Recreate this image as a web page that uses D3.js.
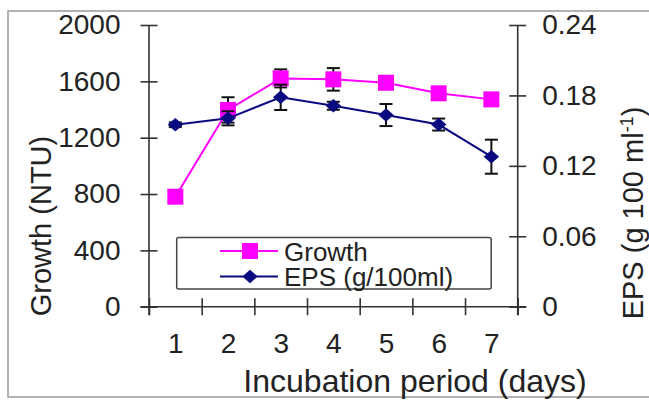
<!DOCTYPE html>
<html>
<head>
<meta charset="utf-8">
<script src="https://cdn.jsdelivr.net/npm/d3@7"></script>
<style>
  html, body { margin: 0; padding: 0; background: #fff; }
  text { font-family: "Liberation Sans", Arial, sans-serif; fill: #222; }
</style>
</head>
<body>
<svg id="chart" width="649" height="401"></svg>
<script>
// Incubation days and measured series
const days = [1, 2, 3, 4, 5, 6, 7];
const growth = [781, 1397, 1621, 1614, 1590, 1515, 1472];
const growthErr = [0, 90, 64, 80, 15, 45, 40];
const eps = [0.155, 0.1605, 0.1784, 0.1712, 0.1633, 0.1552, 0.1278];
const epsErr = [0.002, 0.006, 0.0108, 0.0034, 0.0094, 0.0051, 0.0145];

// Axis ticks
const growthTicks = [0, 400, 800, 1200, 1600, 2000];
const epsTicks = [0, 0.06, 0.12, 0.18, 0.24];
const epsTickLabels = ["0", "0.06", "0.12", "0.18", "0.24"];
const dayBounds = [0.5, 1.5, 2.5, 3.5, 4.5, 5.5, 6.5, 7.5];

const svg = d3.select("#chart");
const plot = { left: 149, right: 517.7, top: 25, bottom: 306.7 };

const x = d3.scaleLinear().domain([0.5, 7.5]).range([plot.left, plot.right]);
const yL = d3.scaleLinear().domain([0, 2000]).range([plot.bottom, plot.top]);
const yR = d3.scaleLinear().domain([0, 0.24]).range([plot.bottom, plot.top]);

const axisColor = "#333";
const tickHalf = 8.5;
const overhang = 8.5;

// Outer frame (its right side runs past the canvas edge)
svg.append("rect")
  .attr("x", 8).attr("y", 11).attr("width", 650).attr("height", 386)
  .attr("fill", "none").attr("stroke", "#999").attr("stroke-width", 1.5);

// Axis lines (they run slightly past each other at the corners)
const axes = svg.append("g").attr("stroke", axisColor).attr("stroke-width", 1.6);
axes.append("line")
  .attr("x1", plot.left).attr("x2", plot.left)
  .attr("y1", yL(2000)).attr("y2", yL(0) + overhang);
axes.append("line")
  .attr("x1", plot.right).attr("x2", plot.right)
  .attr("y1", yR(0.24)).attr("y2", yR(0) + overhang);
axes.append("line")
  .attr("x1", plot.left - overhang).attr("x2", plot.right + overhang)
  .attr("y1", yL(0)).attr("y2", yL(0));

// Left axis
const leftAxis = svg.append("g")
  .attr("transform", `translate(${plot.left},0)`)
  .call(d3.axisLeft(yL).tickValues(growthTicks).tickFormat(d3.format("d")).tickSize(tickHalf).tickPadding(20));
leftAxis.select(".domain").remove();
leftAxis.selectAll(".tick line").attr("x1", -tickHalf).attr("x2", tickHalf)
  .attr("stroke", axisColor).attr("stroke-width", 1.6);
leftAxis.selectAll(".tick text").attr("font-size", 28).attr("fill", "#222")
  .attr("font-family", "Liberation Sans, Arial, sans-serif");

// Right axis
const rightAxis = svg.append("g")
  .attr("transform", `translate(${plot.right},0)`)
  .call(d3.axisRight(yR).tickValues(epsTicks).tickFormat((d, i) => epsTickLabels[i]).tickSize(tickHalf).tickPadding(16));
rightAxis.select(".domain").remove();
rightAxis.selectAll(".tick line").attr("x1", -tickHalf).attr("x2", tickHalf)
  .attr("stroke", axisColor).attr("stroke-width", 1.6);
rightAxis.selectAll(".tick text").attr("font-size", 28).attr("fill", "#222")
  .attr("font-family", "Liberation Sans, Arial, sans-serif");

// Bottom axis: tick marks between days, labels under each day
const bottomTicks = svg.append("g")
  .attr("transform", `translate(0,${plot.bottom})`)
  .call(d3.axisBottom(x).tickValues(dayBounds).tickFormat("").tickSize(tickHalf));
bottomTicks.select(".domain").remove();
bottomTicks.selectAll(".tick line").attr("y1", -tickHalf).attr("y2", tickHalf)
  .attr("stroke", axisColor).attr("stroke-width", 1.6);

const bottomLabels = svg.append("g")
  .attr("transform", `translate(0,${plot.bottom})`)
  .call(d3.axisBottom(x).tickValues(days).tickFormat(d3.format("d")).tickSize(0).tickPadding(26));
bottomLabels.select(".domain").remove();
bottomLabels.selectAll(".tick text").attr("font-size", 28).attr("fill", "#222")
  .attr("font-family", "Liberation Sans, Arial, sans-serif");

// Axis titles
svg.append("text")
  .attr("x", 415).attr("y", 392)
  .attr("text-anchor", "middle").attr("font-size", 32)
  .text("Incubation period (days)");

svg.append("text")
  .attr("transform", "translate(51,226) rotate(-90)")
  .attr("text-anchor", "middle").attr("font-size", 29)
  .text("Growth (NTU)");

const rTitle = svg.append("text")
  .attr("transform", "translate(643,213) rotate(-90)")
  .attr("text-anchor", "middle").attr("font-size", 29);
rTitle.append("tspan").text("EPS (g 100 ml");
rTitle.append("tspan").attr("font-size", 18).attr("dy", -10).text("-1");
rTitle.append("tspan").attr("dy", 10).text(")");

// Series drawing
const pink = "#ff00ff";
const navy = "#0a0a80";
const capHalf = 6.5;

function drawErrors(values, errs, yScale) {
  const g = svg.append("g").attr("stroke", "#111").attr("stroke-width", 2);
  days.forEach((d, i) => {
    if (!errs[i]) return;
    const cx = x(d);
    const y1 = yScale(values[i] + errs[i]);
    const y2 = yScale(values[i] - errs[i]);
    g.append("line").attr("x1", cx).attr("x2", cx).attr("y1", y1).attr("y2", y2);
    g.append("line").attr("x1", cx - capHalf).attr("x2", cx + capHalf).attr("y1", y1).attr("y2", y1);
    g.append("line").attr("x1", cx - capHalf).attr("x2", cx + capHalf).attr("y1", y2).attr("y2", y2);
  });
}

// Growth series
svg.append("path")
  .datum(growth)
  .attr("fill", "none").attr("stroke", pink).attr("stroke-width", 2)
  .attr("d", d3.line().x((v, i) => x(days[i])).y(v => yL(v)));
drawErrors(growth, growthErr, yL);
svg.append("g").selectAll("rect").data(growth).join("rect")
  .attr("x", (v, i) => x(days[i]) - 8).attr("y", v => yL(v) - 8)
  .attr("width", 16).attr("height", 16)
  .attr("fill", pink);

// EPS series
svg.append("path")
  .datum(eps)
  .attr("fill", "none").attr("stroke", navy).attr("stroke-width", 2)
  .attr("d", d3.line().x((v, i) => x(days[i])).y(v => yR(v)));
drawErrors(eps, epsErr, yR);
const diamond = d3.symbol().type(d3.symbolDiamond2).size(115);
svg.append("g").selectAll("path").data(eps).join("path")
  .attr("transform", (v, i) => `translate(${x(days[i])},${yR(v)}) scale(1.15,1)`)
  .attr("d", diamond)
  .attr("fill", navy);

// Legend
const legend = svg.append("g");
legend.append("rect")
  .attr("x", 176.7).attr("y", 237.5).attr("width", 314.5).attr("height", 51.5)
  .attr("rx", 2).attr("fill", "#fff").attr("stroke", "#444").attr("stroke-width", 1.5);
const rows = [
  { label: "Growth", color: pink, shape: "square", y: 251 },
  { label: "EPS (g/100ml)", color: navy, shape: "diamond", y: 276.5 }
];
rows.forEach(r => {
  legend.append("line").attr("x1", 220).attr("x2", 278).attr("y1", r.y).attr("y2", r.y)
    .attr("stroke", r.color).attr("stroke-width", 2);
  if (r.shape === "square") {
    legend.append("rect").attr("x", 250 - 8).attr("y", r.y - 8)
      .attr("width", 16).attr("height", 16).attr("fill", r.color);
  } else {
    legend.append("path").attr("transform", `translate(250,${r.y}) scale(1.15,1)`)
      .attr("d", diamond).attr("fill", r.color);
  }
  legend.append("text").attr("x", 284).attr("y", r.y + 9.5)
    .attr("font-size", 26).text(r.label);
});
</script>
</body>
</html>
